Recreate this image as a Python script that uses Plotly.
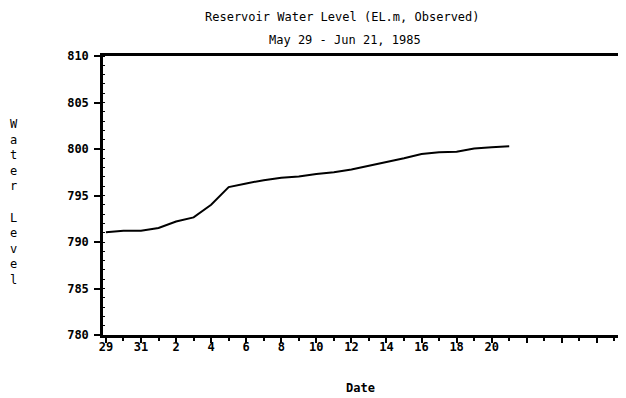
import plotly.graph_objects as go

dates = ["1985-05-29", "1985-05-30", "1985-05-31", "1985-06-01", "1985-06-02",
         "1985-06-03", "1985-06-04", "1985-06-05", "1985-06-06", "1985-06-07",
         "1985-06-08", "1985-06-09", "1985-06-10", "1985-06-11", "1985-06-12",
         "1985-06-13", "1985-06-14", "1985-06-15", "1985-06-16", "1985-06-17",
         "1985-06-18", "1985-06-19", "1985-06-20", "1985-06-21"]
water_level = [791.05, 791.2, 791.2, 791.5, 792.2, 792.65, 794.0, 795.9, 796.3,
               796.65, 796.9, 797.05, 797.3, 797.5, 797.8, 798.2, 798.55, 799.0,
               799.45, 799.65, 799.7, 800.05, 800.2, 800.3]

x_tickvals = ["1985-05-29", "1985-05-31", "1985-06-02", "1985-06-04", "1985-06-06",
              "1985-06-08", "1985-06-10", "1985-06-12", "1985-06-14", "1985-06-16",
              "1985-06-18", "1985-06-20", "1985-06-22", "1985-06-24", "1985-06-26"]
x_ticktext = ["29", "31", "2", "4", "6", "8", "10", "12", "14", "16", "18", "20",
              "", "", ""]
y_tickvals = [780, 785, 790, 795, 800, 805, 810]

FONT = "DejaVu Sans Mono"

fig = go.Figure()
fig.add_trace(go.Scatter(x=dates, y=water_level, mode="lines",
                         line=dict(color="black", width=2), showlegend=False))

# page body has a default 8px margin, so the figure is sized/placed accordingly
fig.update_layout(
    width=618, height=390,
    margin=dict(l=95, r=2, t=48, b=63),
    paper_bgcolor="white", plot_bgcolor="white",
    font=dict(family=FONT, size=12, color="black"),
)
fig.update_xaxes(
    type="date",
    range=["1985-05-28 20:00", "1985-06-27 09:00"],
    tickvals=x_tickvals, ticktext=x_ticktext,
    ticks="outside", ticklen=5, tickwidth=2, tickcolor="black",
    ticklabelstandoff=-6,
    minor=dict(dtick=86400000, tick0="1985-05-29", ticks="outside", ticklen=3,
               tickwidth=1.5, tickcolor="black"),
    showline=True, linewidth=2.5, linecolor="black", mirror=True,
    showgrid=False, zeroline=False,
    tickfont=dict(family=FONT, size=12, color="black", weight="bold"),
)
fig.update_yaxes(
    range=[780, 810], tickvals=y_tickvals,
    ticks="outside", ticklen=6, tickwidth=2, tickcolor="black",
    ticklabelstandoff=3,
    minor=dict(dtick=1, ticks="inside", ticklen=2, tickwidth=1, tickcolor="black"),
    showline=True, linewidth=2.5, linecolor="black", mirror=True,
    showgrid=False, zeroline=False,
    tickfont=dict(family=FONT, size=12, color="black", weight="bold"),
)

fig.add_annotation(text="Reservoir Water Level (EL.m, Observed)", xref="paper", yref="paper",
                   x=0.4626, y=1.140, xanchor="center", yanchor="middle", showarrow=False,
                   font=dict(family=FONT, size=12, color="black"))
fig.add_annotation(text="May 29 - Jun 21, 1985", xref="paper", yref="paper",
                   x=0.468, y=1.057, xanchor="center", yanchor="middle", showarrow=False,
                   font=dict(family=FONT, size=12, color="black"))
fig.add_annotation(text="W<br>a<br>t<br>e<br>r<br> <br>L<br>e<br>v<br>e<br>l",
                   xref="paper", yref="paper", x=-0.171, y=0.477,
                   xanchor="center", yanchor="middle", showarrow=False,
                   font=dict(family=FONT, size=12, color="black"))
fig.add_annotation(text="Date", xref="paper", yref="paper", x=0.497, y=-0.19,
                   xanchor="center", yanchor="middle", showarrow=False,
                   font=dict(family=FONT, size=12, color="black", weight="bold"))

fig.write_html("out.html")
